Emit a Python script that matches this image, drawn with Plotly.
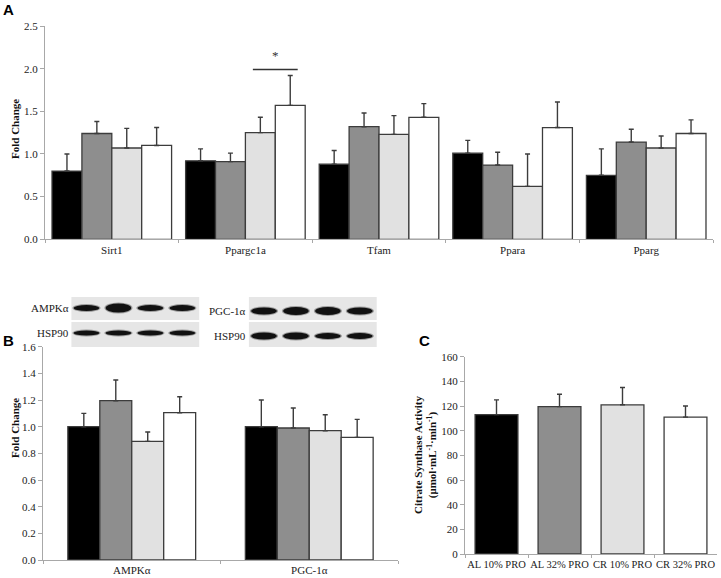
import plotly.graph_objects as go

W, H = 721, 578

groups = ['AL 10% PRO', 'AL 32% PRO', 'CR 10% PRO', 'CR 32% PRO']
colors = ['#000000', '#8e8e8e', '#e1e1e1', '#ffffff']

# Panel A - gene expression (fold change)
genes = ['Sirt1', 'Ppargc1a', 'Tfam', 'Ppara', 'Pparg']
a_mean = [
    [0.80, 0.92, 0.88, 1.01, 0.75],
    [1.24, 0.91, 1.32, 0.87, 1.14],
    [1.07, 1.25, 1.23, 0.62, 1.07],
    [1.10, 1.57, 1.43, 1.31, 1.24],
]
a_sem = [
    [0.20, 0.14, 0.16, 0.15, 0.31],
    [0.14, 0.10, 0.16, 0.15, 0.15],
    [0.23, 0.18, 0.22, 0.38, 0.14],
    [0.21, 0.35, 0.16, 0.30, 0.16],
]
sig_y = 1.99

# Panel B - protein (fold change)
proteins = ['AMPKα', 'PGC-1α']
b_mean = [
    [1.00, 1.00],
    [1.195, 0.99],
    [0.89, 0.97],
    [1.105, 0.92],
]
b_sem = [
    [0.10, 0.20],
    [0.155, 0.15],
    [0.07, 0.12],
    [0.12, 0.135],
]

# Panel C - citrate synthase activity
c_mean = [113, 119.5, 121, 111]
c_sem = [12, 10, 14, 9]

# blot band thickness (px) per lane
ampk_band = [6, 9, 6, 6]
hsp_left_band = [5, 5, 5, 5]
pgc_band = [7, 8, 8, 7]
hsp_right_band = [7, 7, 6, 6]


def py(p):
    return 1 - p / H


def px(p):
    return p / W


serif = 'Liberation Serif'
sans = 'Liberation Sans'
edge = '#3c3c3c'
axc = '#a8a8a8'

fig = go.Figure()

ga, gb = 0.895, 0.72
wa, wb = ga / 4, gb / 4

for i in range(4):
    fig.add_trace(go.Bar(
        x=genes, y=a_mean[i], name=groups[i], xaxis='x', yaxis='y',
        width=wa, offset=-ga / 2 + i * wa,
        marker=dict(color=colors[i], line=dict(color=edge, width=1.3)),
        error_y=dict(type='data', array=a_sem[i], arrayminus=[0] * len(genes),
                     symmetric=False, color=edge, thickness=1.4, width=2.5),
        showlegend=False))
    fig.add_trace(go.Bar(
        x=proteins, y=b_mean[i], name=groups[i], xaxis='x2', yaxis='y2',
        width=wb, offset=-gb / 2 + i * wb,
        marker=dict(color=colors[i], line=dict(color=edge, width=1.3)),
        error_y=dict(type='data', array=b_sem[i], arrayminus=[0] * len(proteins),
                     symmetric=False, color=edge, thickness=1.4, width=2.5),
        showlegend=False))

fig.add_trace(go.Bar(
    x=groups, y=c_mean, xaxis='x3', yaxis='y3', width=0.68,
    marker=dict(color=colors, line=dict(color=edge, width=1.3)),
    error_y=dict(type='data', array=c_sem, arrayminus=[0] * 4,
                 symmetric=False, color=edge, thickness=1.4, width=2.5),
    showlegend=False))

tickf = dict(family=serif, size=11, color='#222')
titlef = dict(family=serif, size=11, color='#111')


def yax(domain, rng, dtick, fmt, anchor):
    return dict(domain=domain, range=rng, dtick=dtick, tickformat=fmt,
                showgrid=False, zeroline=False, showline=True, linecolor=axc,
                linewidth=1, ticks='outside', ticklen=4, tickcolor=axc,
                tickfont=tickf, anchor=anchor, automargin=False)


def xax(domain, anchor, n, size=11):
    return dict(domain=domain, range=[-0.5, n - 0.5], showgrid=False, zeroline=False,
                showline=True, linecolor=axc, linewidth=1, ticks='outside', ticklen=3,
                tickcolor=axc, tickson='boundaries', tickangle=0, automargin=False,
                tickfont=dict(family=serif, size=size, color='#222'), anchor=anchor)


fig.update_layout(
    width=W, height=H, margin=dict(l=0, r=0, t=0, b=0, autoexpand=False),
    paper_bgcolor='white', plot_bgcolor='white',
    barmode='group',
    xaxis=xax([px(45), px(713)], 'y', len(genes)),
    yaxis=yax([py(239.3), py(26)], [0, 2.5], 0.5, '.1f', 'x'),
    xaxis2=xax([px(43), px(398)], 'y2', len(proteins)),
    yaxis2=yax([py(560), py(346.7)], [0, 1.6], 0.2, '.1f', 'x2'),
    xaxis3=xax([px(465), px(717)], 'y3', len(groups), size=10.5),
    yaxis3=yax([py(554), py(356.7)], [0, 160], 20, 'd', 'x3'),
)

# y-axis titles
ytitles = [
    ('<b>Fold Change</b>', 15, 129),
    ('<b>Fold Change</b>', 15, 428),
    ('<b>Citrate Synthase Activity<br>(μmol·mL<sup>-1</sup>·min<sup>-1</sup>)</b>', 425, 455),
]
for txt, tx, ty in ytitles:
    fig.add_annotation(x=px(tx), y=py(ty), xref='paper', yref='paper', text=txt,
                       textangle=-90, showarrow=False, xanchor='center', yanchor='middle',
                       font=titlef)

# significance bar over Ppargc1a CR groups
s0 = 1 - ga / 2 + 2 * wa + wa / 4
s1 = 1 + ga / 2 - wa / 4
fig.add_shape(type='line', xref='x', yref='y', x0=s0, x1=s1, y0=sig_y, y1=sig_y,
              line=dict(color='#333', width=1.3))
fig.add_annotation(x=(s0 + s1) / 2, y=sig_y + 0.16, xref='x', yref='y', text='*',
                   showarrow=False, font=dict(family=serif, size=13, color='#333'))

# panel letters
for letter, lx, ly in [('A', 8, 9), ('B', 8, 340), ('C', 424, 340)]:
    fig.add_annotation(x=px(lx), y=py(ly), xref='paper', yref='paper', text='<b>%s</b>' % letter,
                       showarrow=False, xanchor='center', yanchor='middle',
                       font=dict(family=sans, size=15, color='black'))

# western blot strips above panel B
blots = [
    (0, 'AMPKα', ampk_band, 308, 'HSP90', hsp_left_band, 333),
    (1, 'PGC-1α', pgc_band, 311, 'HSP90', hsp_right_band, 336),
]
for cat, lab1, band1, yc1, lab2, band2, yc2 in blots:
    left = cat - gb / 2 + 0.02
    right = cat + gb / 2 + 0.02
    for top, bot in [(297, 320), (322, 347)]:
        fig.add_shape(type='rect', xref='x2', yref='paper', x0=left, x1=right,
                      y0=py(bot), y1=py(top), fillcolor='#e6e6e6', line=dict(width=0),
                      layer='below')
    for bands, yc in [(band1, yc1), (band2, yc2)]:
        for i, t in enumerate(bands):
            cx = cat - gb / 2 + (i + 0.5) * wb + 0.015
            fig.add_shape(type='circle', xref='x2', yref='paper',
                          x0=cx - wb * 0.44, x1=cx + wb * 0.44,
                          y0=py(yc + t / 2 + 1), y1=py(yc - t / 2 - 1),
                          fillcolor='#555', line=dict(width=0), opacity=0.5)
            fig.add_shape(type='circle', xref='x2', yref='paper',
                          x0=cx - wb * 0.40, x1=cx + wb * 0.40,
                          y0=py(yc + t / 2), y1=py(yc - t / 2),
                          fillcolor='#111', line=dict(width=0))
    for lab, yc in [(lab1, yc1), (lab2, yc2)]:
        fig.add_annotation(x=left - 0.005, y=py(yc), xref='x2', yref='paper', text=lab,
                           showarrow=False, xanchor='right', yanchor='middle',
                           font=dict(family=serif, size=11, color='#222'))

fig.write_html("out.html", config={'displayModeBar': False},
               post_script="document.body.style.margin='0';")
